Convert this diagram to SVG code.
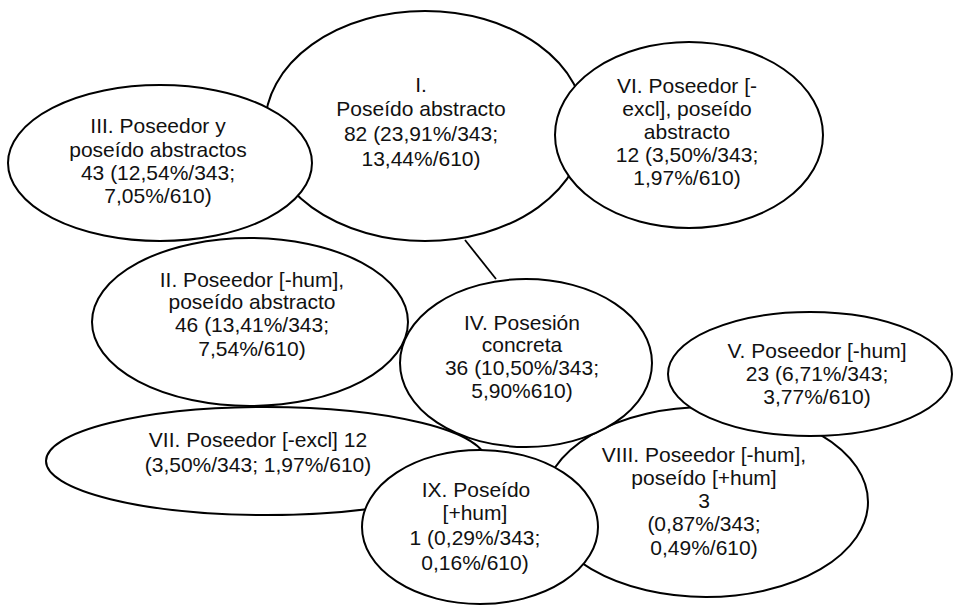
<svg xmlns="http://www.w3.org/2000/svg" width="955" height="607" viewBox="0 0 955 607">
<style>
  .node ellipse { fill: #ffffff; stroke: #000000; stroke-width: 2; }
  .node text { font-family: "Liberation Sans", Arial, sans-serif; font-size: 21px; fill: #111111; text-anchor: middle; }
  .conn line { stroke: #000000; stroke-width: 1.8; }
</style>
<rect x="0" y="0" width="955" height="607" fill="#ffffff"/>
<g id="node-I" class="node">
  <ellipse cx="425" cy="126" rx="160" ry="115"/>
  <text x="421" y="92">I.</text>
  <text x="421" y="116">Poseído abstracto</text>
  <text x="421" y="141">82 (23,91%/343;</text>
  <text x="421" y="166">13,44%/610)</text>
</g>
<g id="connectors" class="conn">
  <line x1="465" y1="240" x2="496" y2="279"/>
</g>
<g id="node-III" class="node">
  <ellipse cx="160" cy="163" rx="152" ry="78"/>
  <text x="158" y="133">III. Poseedor y</text>
  <text x="158" y="157">poseído abstractos</text>
  <text x="158" y="180">43 (12,54%/343;</text>
  <text x="158" y="203">7,05%/610)</text>
</g>
<g id="node-VI" class="node">
  <ellipse cx="689" cy="135" rx="134" ry="93"/>
  <text x="687" y="93">VI. Poseedor [-</text>
  <text x="687" y="116">excl], poseído</text>
  <text x="687" y="139">abstracto</text>
  <text x="687" y="162">12 (3,50%/343;</text>
  <text x="687" y="185">1,97%/610)</text>
</g>
<g id="node-II" class="node">
  <ellipse cx="250" cy="322" rx="158" ry="84"/>
  <text x="252" y="287">II. Poseedor [-hum],</text>
  <text x="252" y="309">poseído abstracto</text>
  <text x="252" y="332">46 (13,41%/343;</text>
  <text x="252" y="356">7,54%/610)</text>
</g>
<g id="node-VIII" class="node">
  <ellipse cx="706" cy="502" rx="162" ry="95"/>
  <text x="704" y="462">VIII. Poseedor [-hum],</text>
  <text x="704" y="485">poseído [+hum]</text>
  <text x="704" y="508">3</text>
  <text x="704" y="531">(0,87%/343;</text>
  <text x="704" y="555">0,49%/610)</text>
</g>
<g id="node-IV" class="node">
  <ellipse cx="526" cy="363" rx="126" ry="84"/>
  <text x="522" y="330">IV. Posesión</text>
  <text x="522" y="352">concreta</text>
  <text x="522" y="375">36 (10,50%/343;</text>
  <text x="522" y="398">5,90%610)</text>
</g>
<g id="node-V" class="node">
  <ellipse cx="810" cy="374" rx="142" ry="62"/>
  <text x="817" y="358">V. Poseedor [-hum]</text>
  <text x="817" y="381">23 (6,71%/343;</text>
  <text x="817" y="404">3,77%/610)</text>
</g>
<g id="node-VII" class="node">
  <ellipse cx="266" cy="461" rx="220" ry="54"/>
  <text x="258" y="447">VII. Poseedor [-excl] 12</text>
  <text x="258" y="472">(3,50%/343; 1,97%/610)</text>
</g>
<g id="node-IX" class="node">
  <ellipse cx="480" cy="527" rx="118" ry="77"/>
  <text x="476" y="497">IX. Poseído</text>
  <text x="475" y="520">[+hum]</text>
  <text x="475" y="545">1 (0,29%/343;</text>
  <text x="475" y="570">0,16%/610)</text>
</g>
</svg>
